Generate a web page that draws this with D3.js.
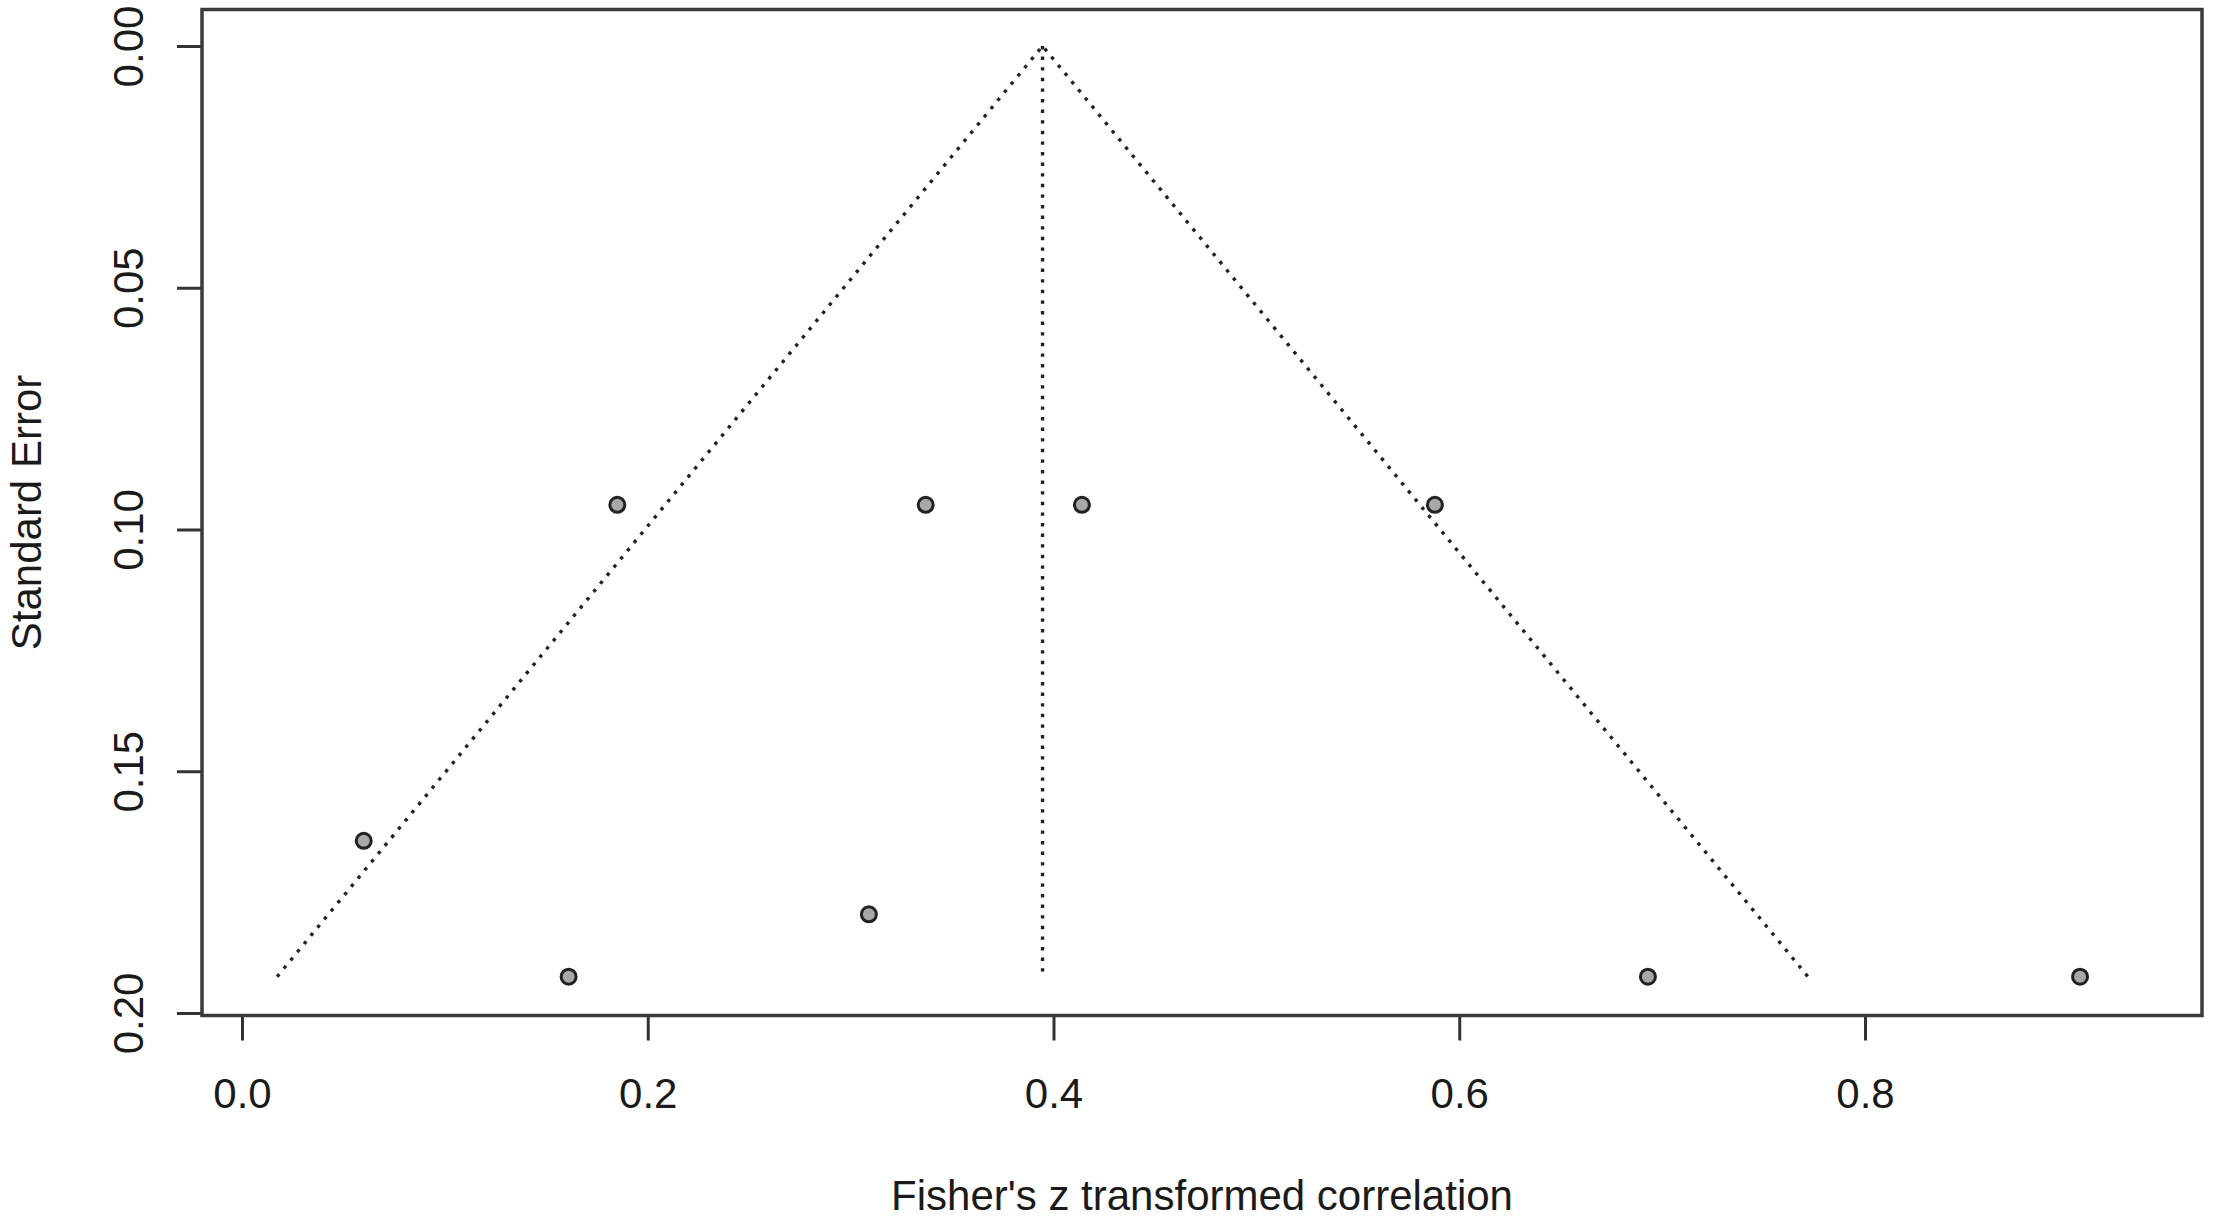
<!DOCTYPE html>
<html>
<head>
<meta charset="utf-8">
<script src="https://cdn.jsdelivr.net/npm/d3@7"></script>
<style>
  body { margin: 0; background: #fff; }
  text { font-family: "Liberation Sans", Arial, sans-serif; }
</style>
</head>
<body>
<div id="funnel"></div>
<script>
//study estimates (Fisher's z) and their standard errors
const studyZ  = [0.185, 0.337, 0.414, 0.588, 0.060, 0.309, 0.161, 0.693, 0.906]
const studySE = [0.0949, 0.0949, 0.0949, 0.0949, 0.1644, 0.1796, 0.1925, 0.1925, 0.1925]

//pooled estimate and largest standard error (funnel bottom)
const pooledZ = 0.3946
const maxSE = 0.1925

//axis ticks
const xTicks = [0.0, 0.2, 0.4, 0.6, 0.8]
const yTicks = [0.00, 0.05, 0.10, 0.15, 0.20]

//axis titles
const xTitle = "Fisher's z transformed correlation"
const yTitle = "Standard Error"

//set the dimensions and margins of the graph
const W = 2217, H = 1225
const margin = {top: 9.5, right: 15, bottom: 209.5, left: 202},
  width = W - margin.left - margin.right,
  height = H - margin.top - margin.bottom;

//append the svg object to the body of the page
const svg = d3.select("#funnel")
.append("svg")
  .attr("width", W)
  .attr("height", H)
.append("g")
  .attr("transform", `translate(${margin.left}, ${margin.top})`);

//scales (plot region extends a bit past the data, like base R)
const x = d3.scaleLinear()
  .domain([-0.01972, 0.96611])
  .range([0, width])
const y = d3.scaleLinear()
  .domain([-0.00755, 0.20052])
  .range([0, height])

const ink = "#333"

//funnel lines: pooled +/- 1.96 SE, and the vertical line at the pooled estimate
const funnel = [
  [[pooledZ - 1.96 * maxSE, maxSE], [pooledZ, 0], [pooledZ + 1.96 * maxSE, maxSE]],
  [[pooledZ, 0], [pooledZ, maxSE]]
]
const line = d3.line().x(d => x(d[0])).y(d => y(d[1]))
svg.selectAll("path.funnel")
  .data(funnel)
  .join("path")
    .attr("class", "funnel")
    .attr("d", line)
    .attr("fill", "none")
    .attr("stroke", "#222")
    .attr("stroke-width", 3.4)
    .attr("stroke-dasharray", "3.4,7.2")

//points
svg.selectAll("circle.study")
  .data(studyZ.map((z, i) => ({z: z, se: studySE[i]})))
  .join("circle")
    .attr("class", "study")
    .attr("cx", d => x(d.z))
    .attr("cy", d => y(d.se))
    .attr("r", 7.5)
    .style("fill", "#a8a8a8")
    .style("stroke", "#222")
    .style("stroke-width", 3)

//x axis
const gx = svg.append("g")
  .attr("transform", `translate(0, ${height})`)
  .call(d3.axisBottom(x).tickValues(xTicks).tickFormat(d3.format(".1f")).tickSize(25))
gx.select(".domain").remove()
gx.selectAll(".tick line").attr("stroke", ink).attr("stroke-width", 3)
gx.selectAll(".tick text")
  .attr("y", 92.5)
  .attr("dy", 0)
  .style("font-size", "42px")
  .style("fill", "#1a1a1a")

//y axis, labels turned like base R (las = 0)
const gy = svg.append("g")
  .call(d3.axisLeft(y).tickValues(yTicks).tickFormat(d3.format(".2f")).tickSize(25))
gy.select(".domain").remove()
gy.selectAll(".tick line").attr("stroke", ink).attr("stroke-width", 3)
gy.selectAll(".tick text")
  .attr("x", 0)
  .attr("dy", 0)
  .attr("text-anchor", "middle")
  .attr("transform", "translate(-59, 0) rotate(-90)")
  .style("font-size", "42px")
  .style("fill", "#1a1a1a")

//box around the plot region
svg.append("rect")
  .attr("width", width)
  .attr("height", height)
  .attr("fill", "none")
  .attr("stroke", "#3a3a3a")
  .attr("stroke-width", 3.5)

//axis titles
svg.append("text")
  .attr("x", width / 2)
  .attr("y", 1210 - margin.top)
  .attr("text-anchor", "middle")
  .style("font-size", "42px")
  .style("fill", "#1a1a1a")
  .text(xTitle)

svg.append("text")
  .attr("transform", `translate(${41 - margin.left}, ${height / 2}) rotate(-90)`)
  .attr("text-anchor", "middle")
  .style("font-size", "42px")
  .style("fill", "#1a1a1a")
  .text(yTitle)
</script>
</body>
</html>
